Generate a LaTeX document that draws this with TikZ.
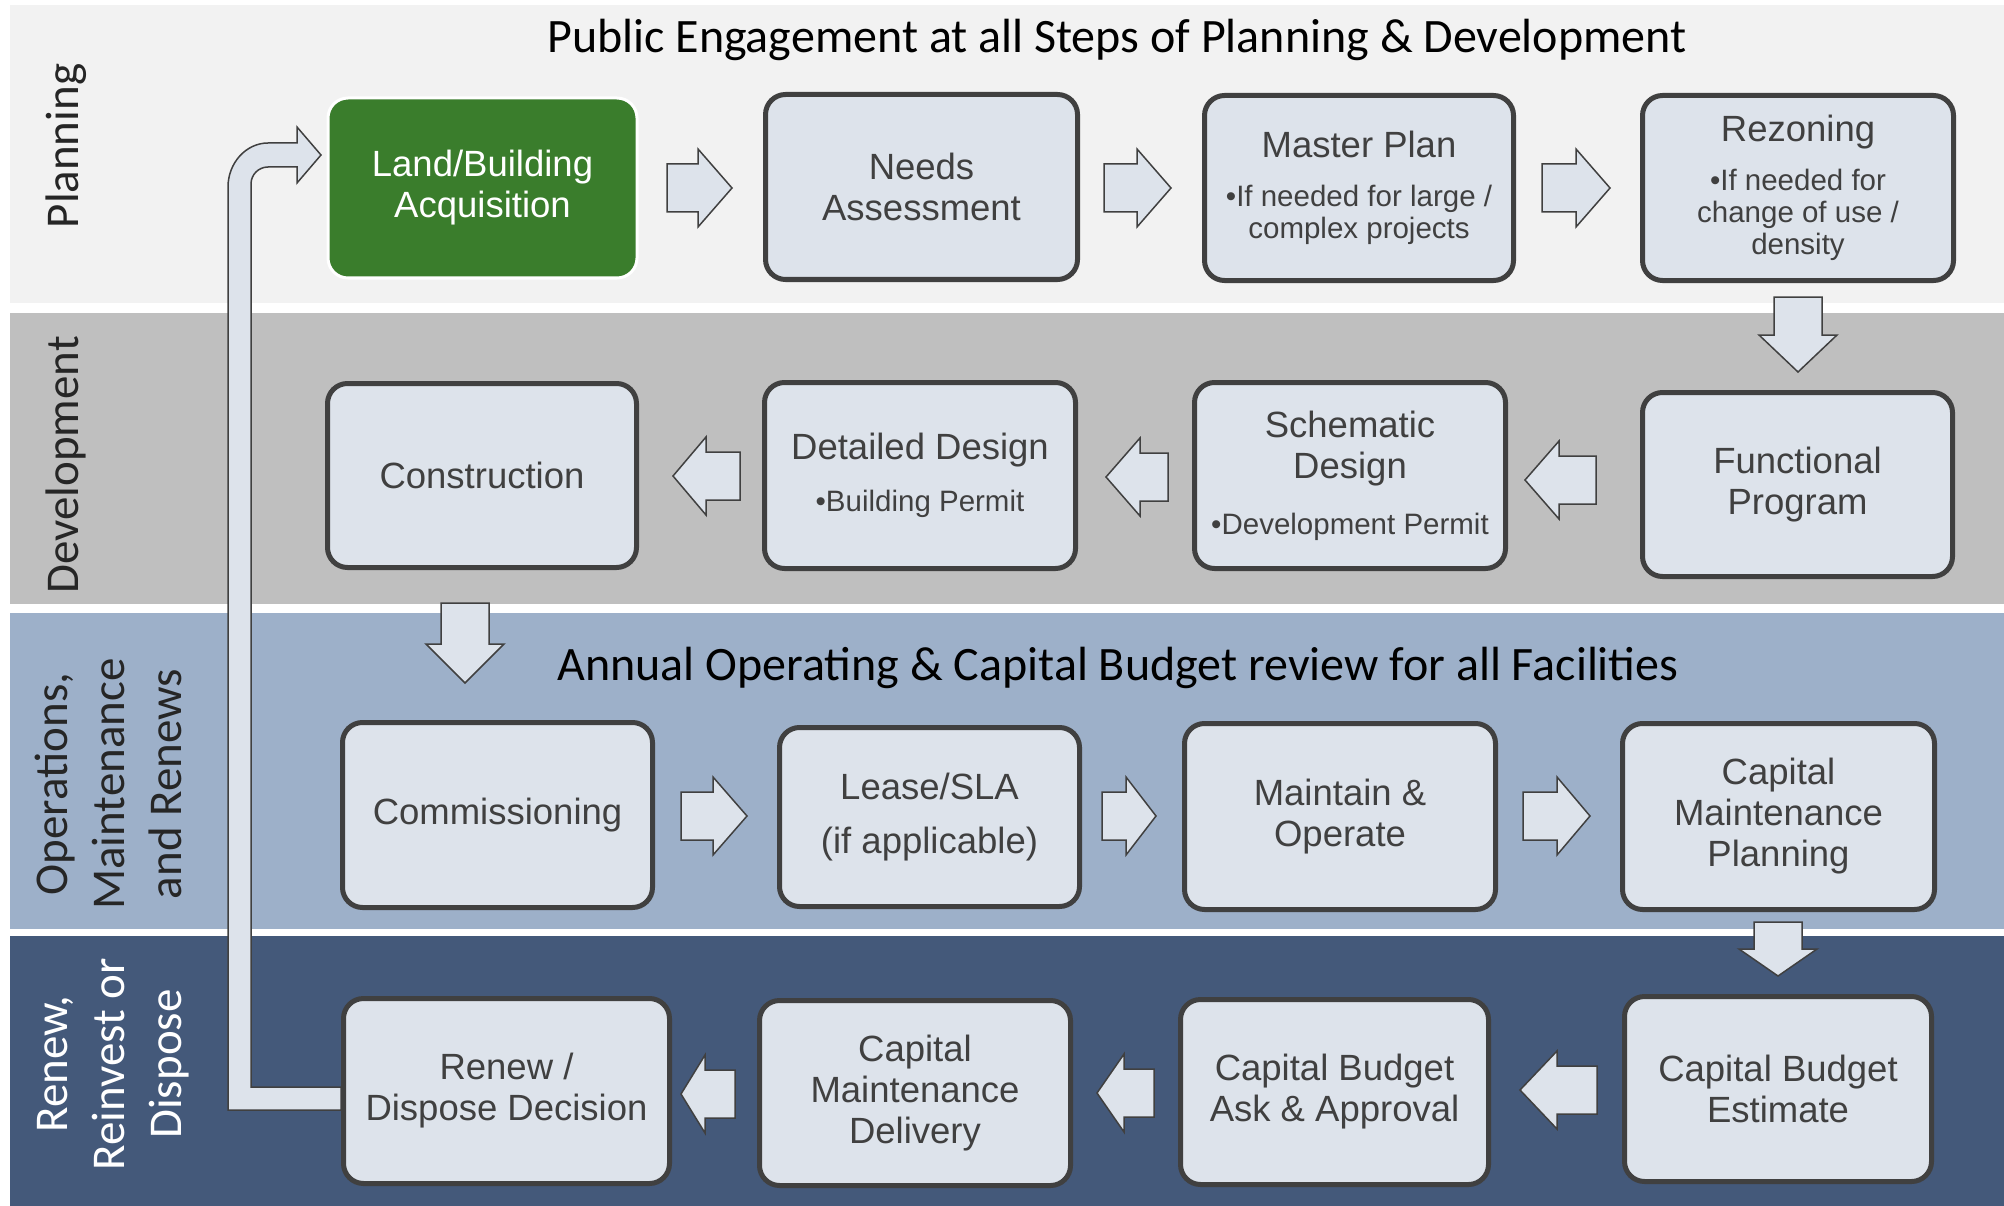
\documentclass[tikz,border=0pt]{standalone}
\usepackage{fontspec}
\setmainfont{Liberation Sans}
\newfontfamily\calib{Carlito}
\definecolor{bandP}{HTML}{F2F2F2}
\definecolor{bandD}{HTML}{BFBFBF}
\definecolor{bandO}{HTML}{9DB0C9}
\definecolor{bandR}{HTML}{44597A}
\definecolor{boxfill}{HTML}{DDE3EB}
\definecolor{boxline}{HTML}{404040}
\definecolor{acqgreen}{HTML}{3A7D2C}
\definecolor{labgray}{HTML}{262626}
\newcommand\harr[4]{% tail, head base, tip, center y
  \draw[barrow] (#1,#4-24) -- (#2,#4-24) -- (#2,#4-39) -- (#3,#4) -- (#2,#4+39) -- (#2,#4+24) -- (#1,#4+24) -- cycle;}
\newcommand\varr[4]{% center x, top, head base, tip
  \draw[barrow] (#1-24,#2) -- (#1-24,#3) -- (#1-39,#3) -- (#1,#4) -- (#1+39,#3) -- (#1+24,#3) -- (#1+24,#2) -- cycle;}
\newcommand\subtxt[2]{\par\vspace{#1pt}{\fontsize{29.5}{32}\selectfont #2\par}}
\begin{document}
\begin{tikzpicture}[x=1pt,y=-1pt,
  stepbox/.style={draw=boxline, line width=5pt, fill=boxfill, rounded corners=20pt,
    text=boxline, align=flush center, text width=300pt, inner sep=0pt,
    font=\fontsize{36.5}{41}\selectfont},
  greenbox/.style={stepbox, draw=white, line width=3pt, fill=acqgreen, text=white},
  barrow/.style={draw=boxline, line width=1.5pt, fill=boxfill},
  bandlab/.style={rotate=90, anchor=base, font=\calib\fontsize{47}{57}\selectfont, inner sep=0pt},
  bigtitle/.style={anchor=base, font=\calib\fontsize{48}{54}\selectfont, text=black, inner sep=0pt}]
\useasboundingbox (0,0) rectangle (2004,1206);
% bands
\fill[bandP] (10,5) rectangle (2004,303);
\fill[bandD] (10,313) rectangle (2004,604);
\fill[bandO] (10,613) rectangle (2004,929);
\fill[bandR] (10,936) rectangle (2004,1206);
% band labels
\node[bandlab, text=labgray] (lp) at (78,146) {Planning};
\node[bandlab, text=labgray] (ld) at (78,465) {Development};
\node[bandlab, text=black!85] (lo1) at (67,784) {Operations,};
\node[bandlab, text=black!85] (lo2) at (124,784) {Maintenance};
\node[bandlab, text=black!85] (lo3) at (181,784) {and Renews};
\node[bandlab, text=white] (lr1) at (67,1064) {Renew,};
\node[bandlab, text=white] (lr2) at (124,1064) {Reinvest or};
\node[bandlab, text=white] (lr3) at (181,1064) {Dispose};
% titles
\node[bigtitle] (t1) at (1117,53) {Public Engagement at all Steps of Planning \& Development};
\node[bigtitle] (t2) at (1118,680) {Annual Operating \& Capital Budget review for all Facilities};
% boxes
\node[greenbox, minimum width=309pt, minimum height=180pt] (acq) at (482.5,188) {Land/Building\\Acquisition};
\node[stepbox, minimum width=312pt, minimum height=185pt] (needs) at (921.5,187) {Needs\\Assessment};
\node[stepbox, minimum width=309pt, minimum height=185pt] (master) at (1359,188) {Master Plan\subtxt{17}{•If needed for large /\\complex projects}};
\node[stepbox, minimum width=311pt, minimum height=185pt] (rezone) at (1798,188) {Rezoning\subtxt{17}{•If needed for\\change of use /\\density}};
\node[stepbox, minimum width=309pt, minimum height=184pt] (constr) at (482,475.5) {Construction};
\node[stepbox, minimum width=311pt, minimum height=186pt] (detail) at (920,475.5) {Detailed Design\subtxt{20}{•Building Permit}};
\node[stepbox, minimum width=311pt, minimum height=186pt] (schem) at (1350,475.5) {Schematic\\Design\subtxt{24}{•Development Permit}};
\node[stepbox, minimum width=310pt, minimum height=184pt] (func) at (1797.5,484.5) {Functional\\Program};
\node[stepbox, minimum width=310pt, minimum height=185pt] (comm) at (497.5,815) {Commissioning};
\node[stepbox, minimum width=300pt, minimum height=179pt] (lease) at (929.5,817) {Lease/SLA\par\vspace{13pt}(if applicable)};
\node[stepbox, minimum width=311pt, minimum height=186pt] (maint) at (1340,816.5) {Maintain \&\\Operate};
\node[stepbox, minimum width=312pt, minimum height=186pt] (cmp) at (1778.5,816.5) {Capital\\Maintenance\\Planning};
\node[stepbox, text width=316pt, minimum width=326pt, minimum height=185pt] (renew) at (506.5,1091) {Renew /\\Dispose Decision};
\node[stepbox, minimum width=311pt, minimum height=185pt] (cmd) at (915,1093) {Capital\\Maintenance\\Delivery};
\node[stepbox, minimum width=308pt, minimum height=185pt] (cba) at (1334.5,1092) {Capital Budget\\Ask \& Approval};
\node[stepbox, minimum width=307pt, minimum height=185pt] (cbe) at (1778,1089) {Capital Budget\\Estimate};
% feedback bent arrow
\draw[barrow] (renew.west |- 0,1110) -- (228,1110) -- (228,187)
  .. controls (228,163) and (246,143) .. (268,143) -- (297,143) -- (297,127) -- (321,155)
  -- (297,183) -- (297,167) -- (268,167) .. controls (258.6,167) and (251,174.6) .. (251,184)
  -- (251,1087) -- (renew.west |- 0,1087) -- cycle;
% row arrows
\harr{667}{698}{732}{188}
\harr{1104}{1137}{1171}{188}
\harr{1542}{1576}{1610}{188}
\varr{1798}{297}{335}{372}
\harr{1596}{1559}{1525}{480}
\harr{1168}{1140}{1106}{477}
\harr{740}{706}{673}{476}
\varr{465}{603}{644}{683}
\harr{681}{713}{747}{816}
\harr{1102}{1126}{1156}{816}
\harr{1523}{1557}{1590}{816}
\varr{1778}{922}{949}{976}
\harr{1597}{1557}{1520}{1090}
\harr{1154}{1124}{1097}{1093}
\harr{735}{705}{681}{1094}
\end{tikzpicture}
\end{document}
